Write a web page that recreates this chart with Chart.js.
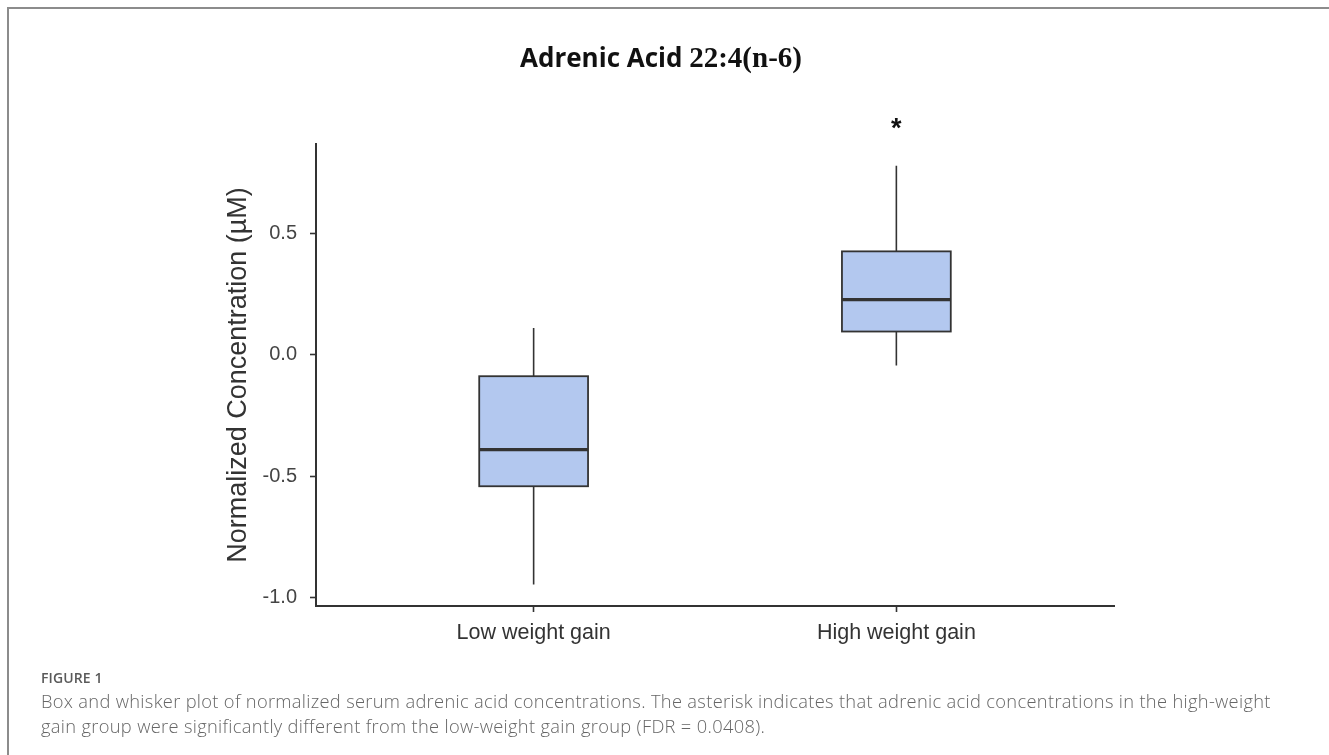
<!DOCTYPE html>
<html>
<head>
<meta charset="utf-8">
<script src="https://cdn.jsdelivr.net/npm/chart.js@4.4.1/dist/chart.umd.min.js"></script>
<style>
  html, body { margin:0; padding:0; background:#fff; }
  #wrap { position:relative; width:1329px; height:755px; overflow:hidden; background:#fff; }
  #frame { position:absolute; left:7px; top:7px; width:1330px; height:760px;
           border-top:2px solid #8c8c8c; border-left:2px solid #8c8c8c; }
  #chart { position:absolute; left:0; top:0; }
  #figlabel { position:absolute; left:41px; top:670px; font-family:"Open Sans", sans-serif;
              font-weight:600; font-size:14px; color:#5a5a5a; letter-spacing:0.1px; line-height:16px; }
  #caption { position:absolute; left:41px; top:688px; font-family:"Open Sans", sans-serif;
             font-weight:300; font-size:18.3px; color:#666666; line-height:25px; white-space:nowrap;
             letter-spacing:0.32px; }
</style>
</head>
<body>
<div id="wrap">
  <div id="frame"></div>
  <canvas id="chart" width="1329" height="755"></canvas>
  <div id="figlabel">FIGURE 1</div>
  <div id="caption">Box and whisker plot of normalized serum adrenic acid concentrations. The asterisk indicates that adrenic acid concentrations in the high-weight<br>gain group were significantly different from the low-weight gain group (FDR = 0.0408).</div>
</div>
<script>
// ---- data ----
const categories   = ["Low weight gain", "High weight gain"];
const positions    = [1, 2];
const whiskerLow   = [-0.946, -0.044];
const q1           = [-0.541, 0.096];
const median       = [-0.390, 0.227];
const q3           = [-0.088, 0.426];
const whiskerHigh  = [0.111, 0.778];
const sigLabels    = ["", "*"];
const sigY         = [null, 0.942];
const yTickValues  = [-1.0, -0.5, 0.0, 0.5];
const xTickValues  = [1, 2];
const titleMain    = "Adrenic Acid ";
const titleFormula = "22:4(n-6)";
const yTitle       = "Normalized Concentration (\u00b5M)";

const boxHalfWidth = 0.15;

const boxPlugin = {
  id: 'boxes',
  afterDatasetsDraw(chart) {
    const { ctx, scales: { x, y } } = chart;
    ctx.save();
    positions.forEach((p, i) => {
      const cx = x.getPixelForValue(p);
      const l = x.getPixelForValue(p - boxHalfWidth);
      const r = x.getPixelForValue(p + boxHalfWidth);
      const yq1 = y.getPixelForValue(q1[i]);
      const yq3 = y.getPixelForValue(q3[i]);
      const ymed = y.getPixelForValue(median[i]);
      ctx.strokeStyle = '#333333';
      ctx.lineWidth = 1.6;
      ctx.beginPath();
      ctx.moveTo(cx, y.getPixelForValue(whiskerHigh[i]));
      ctx.lineTo(cx, yq3);
      ctx.moveTo(cx, yq1);
      ctx.lineTo(cx, y.getPixelForValue(whiskerLow[i]));
      ctx.stroke();
      ctx.fillStyle = '#b3c8ef';
      ctx.fillRect(l, yq3, r - l, yq1 - yq3);
      ctx.lineWidth = 1.8;
      ctx.strokeRect(l, yq3, r - l, yq1 - yq3);
      ctx.lineWidth = 3.2;
      ctx.beginPath();
      ctx.moveTo(l, ymed);
      ctx.lineTo(r, ymed);
      ctx.stroke();
      if (sigLabels[i]) {
        ctx.fillStyle = '#111111';
        ctx.font = 'bold 27px "Liberation Sans", Arial, sans-serif';
        ctx.textAlign = 'center';
        ctx.textBaseline = 'middle';
        ctx.fillText(sigLabels[i], cx, y.getPixelForValue(sigY[i]) + 4);
      }
    });
    ctx.restore();
  },
  afterDraw(chart) {
    const { ctx } = chart;
    ctx.save();
    const f1 = 'bold 26px "Open Sans", "DejaVu Sans", sans-serif';
    const f2 = 'bold 29px "Liberation Serif", "DejaVu Serif", serif';
    ctx.font = f1; const w1 = ctx.measureText(titleMain).width;
    ctx.font = f2; const w2 = ctx.measureText(titleFormula).width;
    const cxT = 661;
    const start = cxT - (w1 + w2) / 2;
    ctx.fillStyle = '#111111';
    ctx.textBaseline = 'alphabetic';
    ctx.textAlign = 'left';
    ctx.font = f1; ctx.fillText(titleMain, start, 67);
    ctx.font = f2; ctx.fillText(titleFormula, start + w1, 67);
    ctx.restore();
  }
};

new Chart(document.getElementById('chart'), {
  type: 'scatter',
  data: {
    datasets: [{
      label: 'median',
      data: positions.map((p, i) => ({ x: p, y: median[i] })),
      pointRadius: 0,
      showLine: false
    }]
  },
  options: {
    responsive: false,
    animation: false,
    events: [],
    layout: { padding: { left: 200, right: 215, top: 144, bottom: 89 } },
    plugins: { legend: { display: false }, tooltip: { enabled: false }, title: { display: false } },
    scales: {
      x: {
        type: 'linear',
        min: 0.4, max: 2.6,
        afterBuildTicks: s => { s.ticks = xTickValues.map(v => ({ value: v })); },
        afterFit: s => { s.height = 60; },
        grid: { drawOnChartArea: false, drawTicks: true, tickLength: 6, tickColor: '#333333', tickWidth: 1.6 },
        border: { display: true, color: '#333333', width: 2 },
        ticks: {
          padding: 8,
          color: '#333333',
          font: { family: '"Liberation Sans", Arial, sans-serif', size: 21.5 },
          callback: v => categories[xTickValues.indexOf(v)] ?? ''
        }
      },
      y: {
        type: 'linear',
        min: -1.034, max: 0.868,
        afterBuildTicks: s => { s.ticks = yTickValues.map(v => ({ value: v })); },
        afterFit: s => { s.width = 116; },
        grid: { drawOnChartArea: false, drawTicks: true, tickLength: 6, tickColor: '#333333', tickWidth: 1.6 },
        border: { display: true, color: '#333333', width: 2 },
        ticks: {
          padding: 13,
          color: '#444444',
          font: { family: '"Liberation Sans", Arial, sans-serif', size: 20 },
          callback: v => v.toFixed(1)
        },
        title: {
          display: true,
          text: yTitle,
          color: '#333333',
          font: { family: '"Liberation Sans", Arial, sans-serif', size: 27 },
          padding: { top: 22, bottom: 0 }
        }
      }
    }
  },
  plugins: [boxPlugin]
});
</script>
</body>
</html>
